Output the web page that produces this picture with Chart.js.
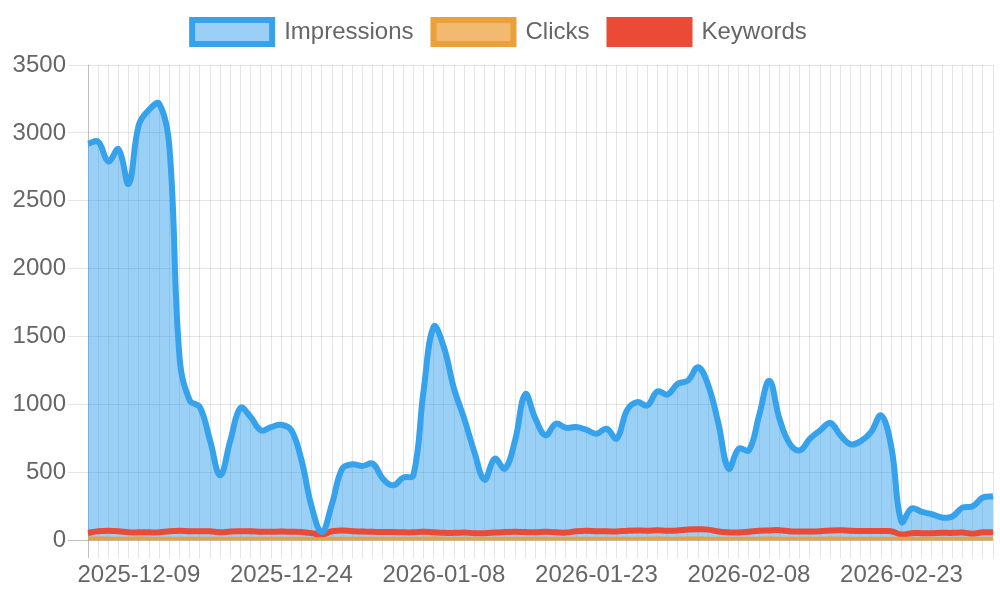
<!DOCTYPE html>
<html>
<head>
<meta charset="utf-8">
<script src="https://cdn.jsdelivr.net/npm/chart.js@4/dist/chart.umd.min.js"></script>
<style>
html,body{margin:0;padding:0;background:#fff;}
#wrap{width:1000px;height:600px;position:relative;}
</style>
</head>
<body>
<div id="wrap"><canvas id="c"></canvas></div>
<script>
const dates = [
 '2025-12-04','2025-12-05','2025-12-06','2025-12-07','2025-12-08','2025-12-09','2025-12-10','2025-12-11','2025-12-12','2025-12-13',
 '2025-12-14','2025-12-15','2025-12-16','2025-12-17','2025-12-18','2025-12-19','2025-12-20','2025-12-21','2025-12-22','2025-12-23',
 '2025-12-24','2025-12-25','2025-12-26','2025-12-27','2025-12-28','2025-12-29','2025-12-30','2025-12-31','2026-01-01','2026-01-02',
 '2026-01-03','2026-01-04','2026-01-05','2026-01-06','2026-01-07','2026-01-08','2026-01-09','2026-01-10','2026-01-11','2026-01-12',
 '2026-01-13','2026-01-14','2026-01-15','2026-01-16','2026-01-17','2026-01-18','2026-01-19','2026-01-20','2026-01-21','2026-01-22',
 '2026-01-23','2026-01-24','2026-01-25','2026-01-26','2026-01-27','2026-01-28','2026-01-29','2026-01-31','2026-02-01','2026-02-02',
 '2026-02-03','2026-02-04','2026-02-05','2026-02-06','2026-02-07','2026-02-08','2026-02-09','2026-02-10','2026-02-11','2026-02-12',
 '2026-02-13','2026-02-14','2026-02-15','2026-02-16','2026-02-17','2026-02-18','2026-02-19','2026-02-20','2026-02-21','2026-02-22',
 '2026-02-23','2026-02-24','2026-02-25','2026-02-26','2026-02-27','2026-02-28','2026-03-01','2026-03-02','2026-03-03','2026-03-04'
];

const impressions = [
 2920,2935,2790,2880,2625,3060,3170,3215,2900,1350,
 1030,980,735,478,735,975,907,809,833,850,
 809,588,245,60,270,527,559,547,564,453,
 404,461,478,1100,1574,1421,1115,895,649,446,
 600,527,735,1075,895,772,858,828,833,814,
 784,821,748,956,1017,993,1096,1073,1152,1176,
 1274,1140,858,527,674,662,919,1175,895,711,
 662,748,809,863,772,706,730,796,919,686,
 135,233,208,191,167,175,240,250,314,323
];

const clicks = [
 4,5,4,3,4,5,4,4,3,4,
 3,4,3,3,4,4,3,4,3,4,
 3,3,2,2,3,4,3,4,3,3,
 4,3,3,4,5,4,4,3,3,3,
 3,4,3,4,4,3,4,3,4,4,
 3,4,3,4,4,4,5,4,4,5,
 5,4,4,3,3,4,4,5,4,4,
 3,4,4,5,4,4,4,4,4,4,
 3,3,3,3,3,3,3,3,4,4
];

const keywords = [
 54,66,69,66,58,58,58,58,66,69,
 66,66,66,58,64,66,66,62,62,64,
 62,60,52,40,66,72,66,64,62,60,
 60,58,58,62,58,54,54,56,52,52,
 56,60,62,60,58,62,58,56,66,70,
 66,66,64,70,72,70,74,70,72,78,
 80,78,64,58,56,62,70,72,74,66,
 64,64,66,72,74,70,68,68,68,66,
 42,52,52,52,54,54,56,48,58,58
];

const yTicks = { min: 0, max: 3500, step: 500 };
const labelEvery = 15;
const labelOffset = 5;

const FONT = "'Liberation Sans', Arial, Helvetica, sans-serif";
Chart.defaults.font.family = FONT;
Chart.defaults.font.size = 24;
Chart.defaults.color = '#666';

const gridColor = (ctx) => (ctx.index === 0 ? 'rgba(0,0,0,0.25)' : 'rgba(0,0,0,0.1)');

const legendMargin = {
  id: 'legendMargin',
  beforeInit(chart) {
    const origFit = chart.legend.fit;
    chart.legend.fit = function () {
      origFit.call(this);
      this.height += 11;
    };
  }
};

new Chart(document.getElementById('c'), {
  type: 'line',
  data: {
    labels: dates,
    datasets: [
      {
        label: 'Impressions',
        data: impressions,
        borderColor: 'rgb(54,162,235)',
        backgroundColor: 'rgba(54,162,235,0.5)',
        borderWidth: 6,
        fill: 'origin',
        tension: 0.4,
        pointRadius: 0
      },
      {
        label: 'Clicks',
        data: clicks,
        borderColor: 'rgb(236,160,56)',
        backgroundColor: 'rgba(236,160,56,0.72)',
        borderWidth: 6,
        fill: false,
        tension: 0.4,
        pointRadius: 0
      },
      {
        label: 'Keywords',
        data: keywords,
        borderColor: 'rgb(234,74,54)',
        backgroundColor: 'rgb(234,74,54)',
        borderWidth: 6,
        fill: false,
        tension: 0.4,
        pointRadius: 0
      }
    ]
  },
  options: {
    responsive: true,
    maintainAspectRatio: false,
    animation: false,
    layout: { padding: { top: 0, left: 6, right: 7, bottom: 7 } },
    plugins: {
      filler: { drawTime: 'beforeDatasetsDraw' },
      legend: {
        position: 'top',
        labels: { boxWidth: 80, boxHeight: 24, padding: 20, color: '#666', font: { size: 24 } }
      },
      tooltip: { enabled: false }
    },
    scales: {
      x: {
        border: { display: false },
        grid: { color: gridColor, tickLength: 18, lineWidth: 1 },
        ticks: {
          autoSkip: false,
          maxRotation: 0,
          padding: 3,
          color: '#666',
          font: { size: 24 },
          callback: function (v, i) { return (i % labelEvery === labelOffset) ? dates[i] : ''; }
        }
      },
      y: {
        min: yTicks.min,
        max: yTicks.max,
        border: { display: false },
        grid: { color: gridColor, tickLength: 20, lineWidth: 1 },
        afterFit: function (scale) { scale.width = 82; },
        ticks: {
          stepSize: yTicks.step, padding: 2, color: '#666', font: { size: 24 },
          callback: function (v) { return String(v); }
        }
      }
    }
  },
  plugins: [legendMargin]
});
</script>
</body>
</html>
